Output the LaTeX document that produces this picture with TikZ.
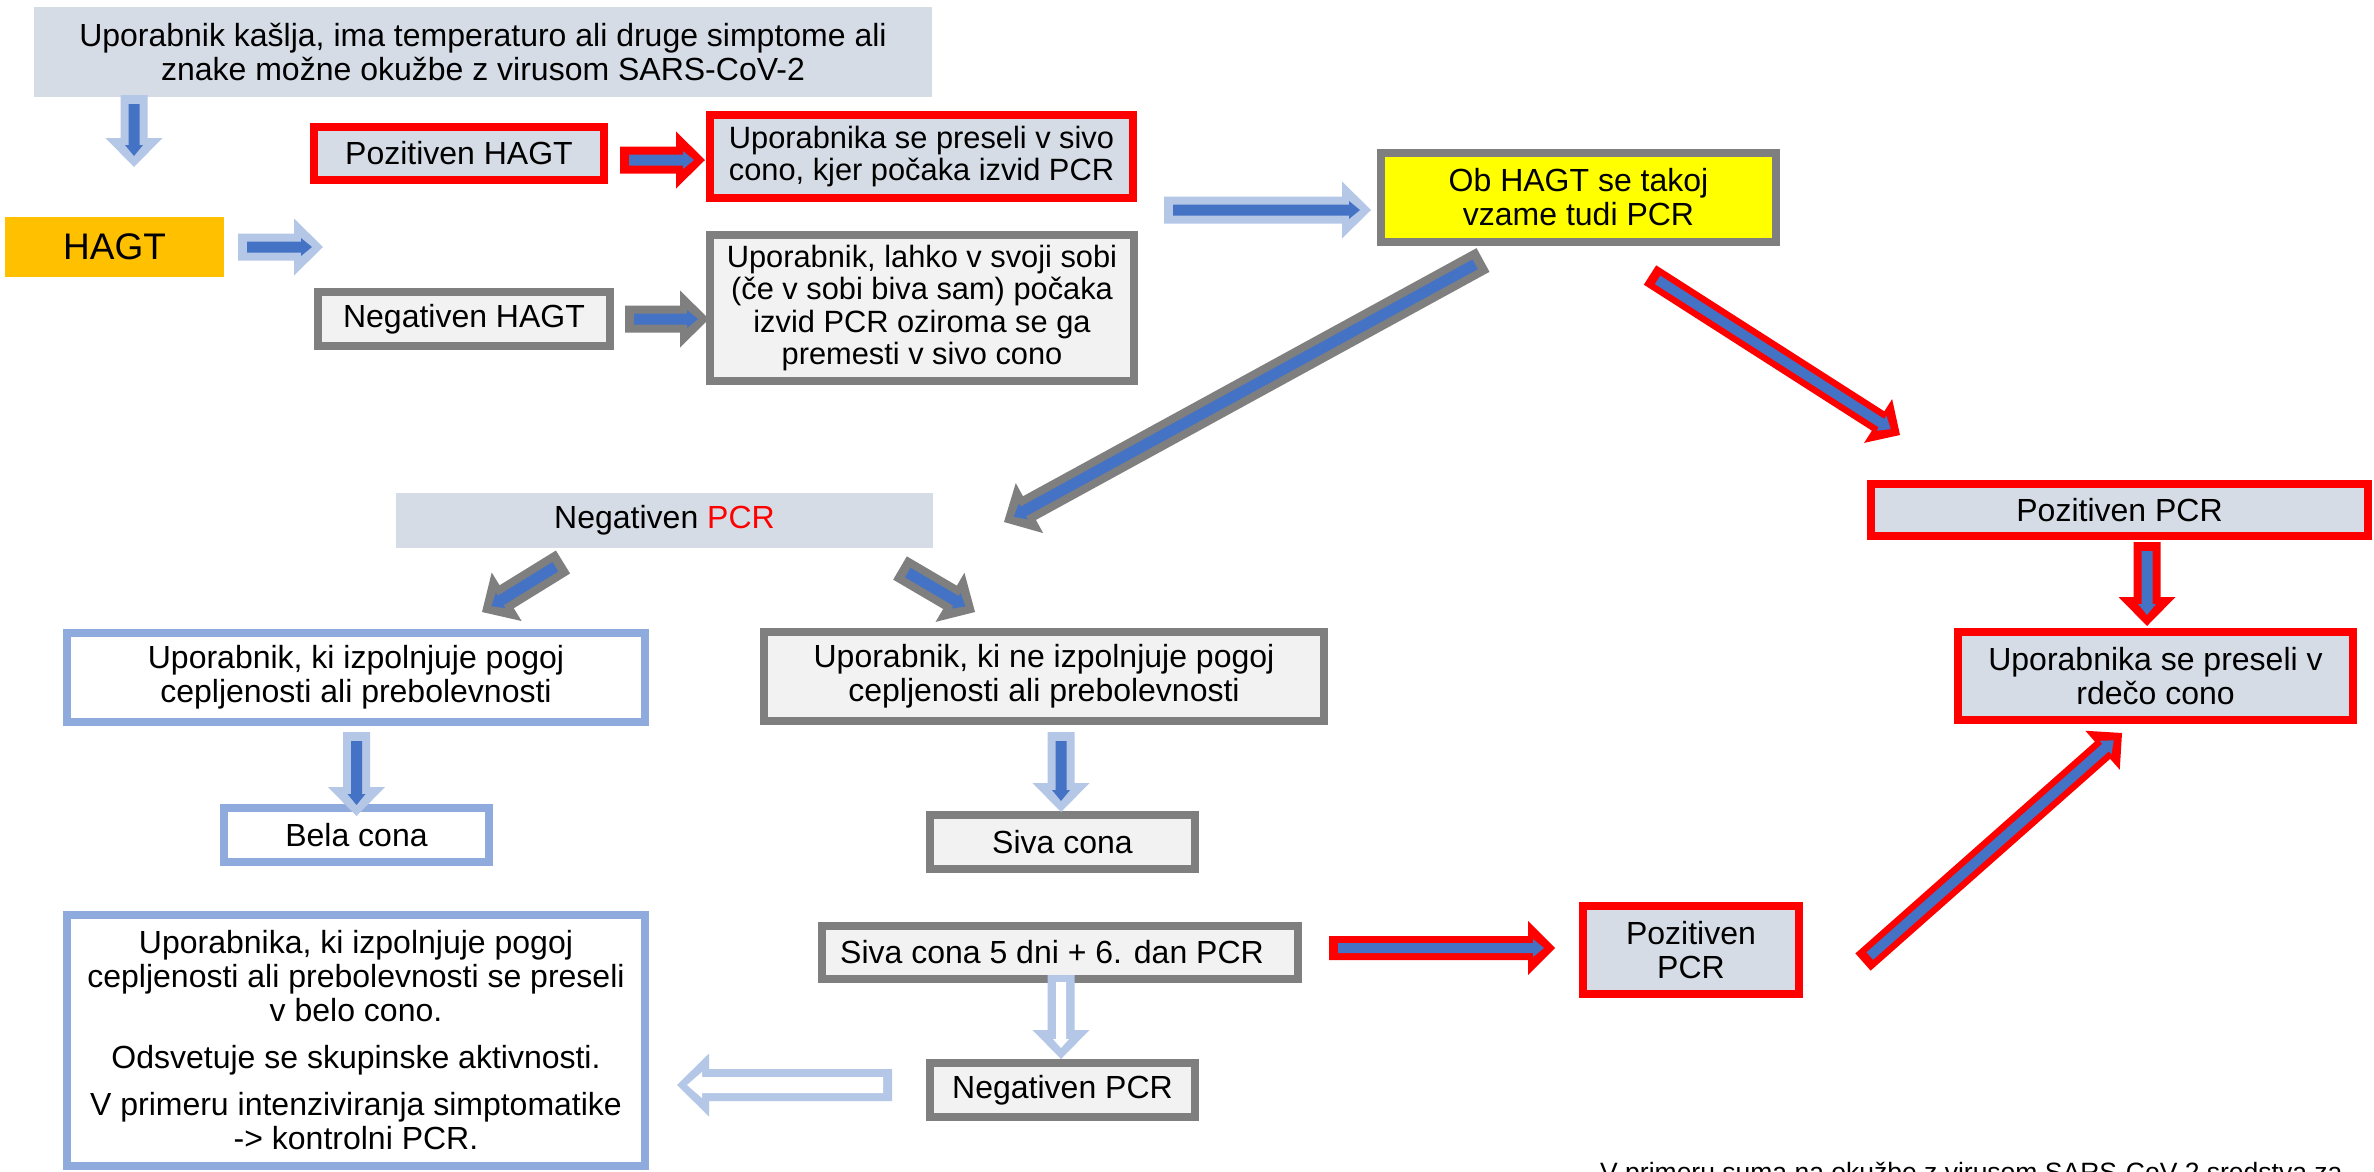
\documentclass[tikz,border=0pt]{standalone}
\usepackage{fontspec}
\setmainfont{Liberation Sans}
\usetikzlibrary{calc}
\definecolor{boxblue}{HTML}{D6DCE5}
\definecolor{boxgray}{HTML}{F2F2F2}
\definecolor{bordergray}{HTML}{7F7F7F}
\definecolor{borderblue}{HTML}{8FAADC}
\definecolor{arrlight}{HTML}{B4C7E7}
\definecolor{arrdark}{HTML}{4472C4}
\definecolor{hagtorange}{HTML}{FFC000}
\definecolor{pureyellow}{HTML}{FFFF00}
\definecolor{purered}{HTML}{FF0000}
\def\baOw{13.5pt}\def\baOh{28.5pt}\def\baOL{29pt}
\def\baIw{5.5pt}\def\baIh{9pt}\def\baIL{11pt}\def\baIs{9pt}\def\baIe{11pt}
\newcommand\blockarr[4]{%
  \fill[#3] ($(#1)!\baOw!90:(#2)$) -- ($(#2)!\baOL!(#1)!\baOw!-90:(#1)$) -- ($(#2)!\baOL!(#1)!\baOh!-90:(#1)$) -- (#2) -- ($(#2)!\baOL!(#1)!\baOh!90:(#1)$) -- ($(#2)!\baOL!(#1)!\baOw!90:(#1)$) -- ($(#1)!\baOw!-90:(#2)$) -- cycle;
  \coordinate (bas) at ($(#1)!\baIs!(#2)$);
  \coordinate (bae) at ($(#2)!\baIe!(#1)$);
  \fill[#4] ($(bas)!\baIw!90:(bae)$) -- ($(bae)!\baIL!(bas)!\baIw!-90:(bas)$) -- ($(bae)!\baIL!(bas)!\baIh!-90:(bas)$) -- (bae) -- ($(bae)!\baIL!(bas)!\baIh!90:(bas)$) -- ($(bae)!\baIL!(bas)!\baIw!90:(bas)$) -- ($(bas)!\baIw!-90:(bae)$) -- cycle;
}
\begin{document}
\begin{tikzpicture}[x=1pt,y=-1pt,
  every node/.style={font=\fontsize{32}{34}\selectfont, inner sep=0pt, align=center, text=black},
  smalltext/.style={font=\fontsize{30.8}{32.5}\selectfont},
  plainbox/.style={fill=boxblue},
  redbox/.style={fill=boxblue, draw=purered, line width=8pt},
  graybox/.style={fill=boxgray, draw=bordergray, line width=8pt},
  bluebox/.style={fill=white, draw=borderblue, line width=8pt},
  yellowbox/.style={fill=pureyellow, draw=bordergray, line width=8pt},
  arrlt/.style={fill=arrlight},
  arrdk/.style={fill=arrdark},
  arrgr/.style={fill=bordergray},
  arrrd/.style={fill=purered},
  arrwh/.style={fill=white}]
\useasboundingbox (0,0) rectangle (2374,1171);
\fill[white] (0,0) rectangle (2374,1171);
\clip (0,0) rectangle (2374,1171);

% boxes
\node[plainbox, minimum width=898pt, minimum height=90pt] (start) at (483,52) {Uporabnik kašlja, ima temperaturo ali druge simptome ali\\znake možne okužbe z virusom SARS-CoV-2};
\node[redbox, minimum width=290pt, minimum height=53pt] (poshagt) at (459,153.5) {Pozitiven HAGT};
\node[redbox, smalltext, minimum width=423pt, minimum height=83pt] (sivo) at (921.5,156.5) {Uporabnika se preseli v sivo\\cono, kjer počaka izvid PCR};
\node[fill=hagtorange, minimum width=219pt, minimum height=60pt, font=\fontsize{37}{40}\selectfont] (hagt) at (114.5,247) {HAGT};
\node[graybox, minimum width=292pt, minimum height=54pt] (neghagt) at (464,319) {Negativen HAGT};
\node[graybox, smalltext, minimum width=424pt, minimum height=146pt] (soba) at (922,308) {Uporabnik, lahko v svoji sobi\\(če v sobi biva sam) počaka\\izvid PCR oziroma se ga\\premesti v sivo cono};
\node[yellowbox, minimum width=395pt, minimum height=89pt] (pcr) at (1578.5,197.5) {Ob HAGT se takoj\\vzame tudi PCR};
\node[plainbox, minimum width=537pt, minimum height=55pt] (negpcr) at (664.5,520.5) {Negativen \textcolor{purered}{PCR}};
\node[redbox, minimum width=497pt, minimum height=52pt] (pospcr) at (2119.5,510) {Pozitiven PCR};
\node[redbox, minimum width=395pt, minimum height=88pt] (rdeca) at (2155.5,676) {Uporabnika se preseli v\\rdečo cono};
\node[bluebox, minimum width=578pt, minimum height=89pt] (izp) at (356,677.5) {Uporabnik, ki izpolnjuje pogoj\\cepljenosti ali prebolevnosti};
\node[graybox, minimum width=560pt, minimum height=89pt] (neizp) at (1044,676.5) {Uporabnik, ki ne izpolnjuje pogoj\\cepljenosti ali prebolevnosti};
\node[bluebox, minimum width=265pt, minimum height=54pt] (bela) at (356.5,835) {Bela cona};
\node[graybox, minimum width=265pt, minimum height=54pt] (siva) at (1062.5,842) {Siva cona};
\node[bluebox, minimum width=578pt, minimum height=251pt] (belo) at (356,1040.5) {Uporabnika, ki izpolnjuje pogoj\\cepljenosti ali prebolevnosti se preseli\\v belo cono.\\[13pt]Odsvetuje se skupinske aktivnosti.\\[13pt]V primeru intenziviranja simptomatike\\-> kontrolni PCR.};
\node[graybox, minimum width=476pt, minimum height=53pt] (siva5) at (1060,952.5) {\hspace*{-16pt}Siva cona 5 dni + 6. dan PCR};
\node[graybox, minimum width=265pt, minimum height=54pt] (negpcr2) at (1062.5,1090) {Negativen PCR};
\node[redbox, minimum width=216pt, minimum height=88pt] (pospcr2) at (1691,950) {Pozitiven\\PCR};
\node[anchor=base west, font=\fontsize{26.5}{30}\selectfont] (note) at (1600,1181) {V primeru suma na okužbe z virusom SARS-CoV-2 sredstva za};

% arrow end points
\coordinate (a1s) at (134,95);   \coordinate (a1e) at (134,167);
\coordinate (a2s) at (238,247);  \coordinate (a2e) at (323,247);
\coordinate (a3s) at (620,160);  \coordinate (a3e) at (705,160);
\coordinate (a4s) at (625,319);  \coordinate (a4e) at (709,319);
\coordinate (a5s) at (1164,210); \coordinate (a5e) at (1371,210);
\coordinate (a6s) at (1483,260); \coordinate (a6e) at (1004,522);
\coordinate (a7s) at (1650,275); \coordinate (a7e) at (1900,435);
\coordinate (a8s) at (2147,542); \coordinate (a8e) at (2147,626);
\coordinate (a9s) at (1863,962); \coordinate (a9e) at (2122,733);
\coordinate (a10s) at (1329,948); \coordinate (a10e) at (1555,948);
\coordinate (a11s) at (563,562); \coordinate (a11e) at (482,612);
\coordinate (a12s) at (900,568); \coordinate (a12e) at (975,612);
\coordinate (a13s) at (356.5,732); \coordinate (a13e) at (356.5,816);
\coordinate (a14s) at (1061,732); \coordinate (a14e) at (1061,812);
\coordinate (a15s) at (1061,975); \coordinate (a15e) at (1061,1059);
\coordinate (a16s) at (892,1085); \coordinate (a16e) at (677,1085);

% block arrows
\blockarr{a1s}{a1e}{arrlt}{arrdk}
\blockarr{a2s}{a2e}{arrlt}{arrdk}
\blockarr{a3s}{a3e}{arrrd}{arrdk}
\blockarr{a4s}{a4e}{arrgr}{arrdk}
\blockarr{a5s}{a5e}{arrlt}{arrdk}
\blockarr{a6s}{a6e}{arrgr}{arrdk}
\begin{scope}
\def\baOw{11.5pt}\def\baOh{26pt}\def\baOL{26pt}\def\baIw{5pt}
\blockarr{a7s}{a7e}{arrrd}{arrdk}
\blockarr{a9s}{a9e}{arrrd}{arrdk}
\end{scope}
\blockarr{a8s}{a8e}{arrrd}{arrdk}
\begin{scope}
\def\baOw{12pt}\def\baOh{27pt}\def\baOL{27pt}\def\baIw{5pt}
\blockarr{a10s}{a10e}{arrrd}{arrdk}
\end{scope}
\blockarr{a11s}{a11e}{arrgr}{arrdk}
\blockarr{a12s}{a12e}{arrgr}{arrdk}
\blockarr{a13s}{a13e}{arrlt}{arrdk}
\blockarr{a14s}{a14e}{arrlt}{arrdk}
\begin{scope}
\def\baIw{5pt}\def\baIh{8pt}\def\baIL{9pt}\def\baIs{7pt}
\blockarr{a15s}{a15e}{arrlt}{arrwh}
\end{scope}
\begin{scope}
\def\baOw{16pt}\def\baOh{31.5pt}\def\baOL{32pt}\def\baIw{8pt}\def\baIh{13pt}\def\baIL{15pt}\def\baIs{9pt}\def\baIe{10pt}
\blockarr{a16s}{a16e}{arrlt}{arrwh}
\end{scope}
\end{tikzpicture}
\end{document}
